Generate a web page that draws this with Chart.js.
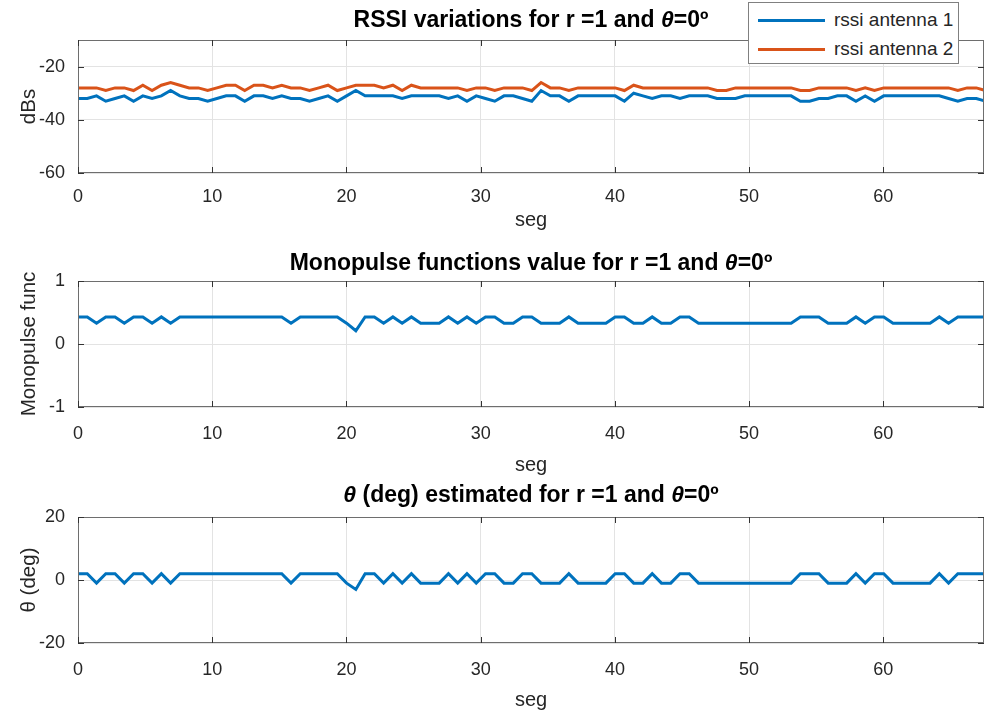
<!DOCTYPE html>
<html>
<head>
<meta charset="utf-8">
<script src="https://cdn.jsdelivr.net/npm/chart.js@4.4.1/dist/chart.umd.min.js"></script>
<style>
  body { margin: 0; background: #fff; width: 985px; height: 720px; overflow: hidden; position: relative;
         font-family: "Liberation Sans", Arial, sans-serif; }
  canvas { position: absolute; left: 0; top: 0; }
  .ttl { position: absolute; left: 78px; width: 906px; text-align: center; font-weight: bold;
         font-size: 23px; color: #000; line-height: 26px; white-space: nowrap; z-index: 5; }
  .legend { position: absolute; left: 748px; top: 2px; width: 209px; height: 60px; background: #fff;
            border: 1px solid #808080; z-index: 6; font-size: 19px; color: #262626; }
  .legend div { position: absolute; left: 9px; height: 22px; line-height: 22px; white-space: nowrap; }
  .legend span { display: inline-block; width: 67px; height: 3px; vertical-align: middle; margin-right: 9px; }
</style>
</head>
<body>
<div class="ttl" style="top:6px">RSSI variations for r =1 and <i>θ</i>=0º</div>
<div class="ttl" style="top:249px">Monopulse functions value for r =1 and <i>θ</i>=0º</div>
<div class="ttl" style="top:481px"><i>θ</i> (deg) estimated for r =1 and <i>θ</i>=0º</div>
<div class="legend">
  <div style="top:6px"><span style="background:#0072BD"></span>rssi antenna 1</div>
  <div style="top:35px"><span style="background:#D95319"></span>rssi antenna 2</div>
</div>
<canvas id="c1" width="985" height="720"></canvas>
<canvas id="c2" width="985" height="720"></canvas>
<canvas id="c3" width="985" height="720"></canvas>
<script>
// sample spacing on the "seg" axis
const SEG_STEP = 0.69;

// rssi antenna 1 (dBs)
const rssi1 = [
  -32, -32, -31, -33, -32, -31, -33, -31, -32, -31,
  -29, -31, -32, -32, -33, -32, -31, -31, -33, -31,
  -31, -32, -31, -32, -32, -33, -32, -31, -33, -31,
  -29, -31, -31, -31, -31, -32, -31, -31, -31, -31,
  -32, -31, -33, -31, -32, -33, -31, -31, -32, -33,
  -29, -31, -31, -33, -31, -31, -31, -31, -31, -33,
  -30, -31, -32, -31, -31, -32, -31, -31, -31, -32,
  -32, -32, -31, -31, -31, -31, -31, -31, -33, -33,
  -32, -32, -31, -31, -33, -31, -33, -31, -31, -31,
  -31, -31, -31, -31, -32, -33, -32, -32, -33
];

// rssi antenna 2 (dBs)
const rssi2 = [
  -28, -28, -28, -29, -28, -28, -29, -27, -29, -27,
  -26, -27, -28, -28, -29, -28, -27, -27, -29, -27,
  -27, -28, -27, -28, -28, -29, -28, -27, -29, -28,
  -27, -27, -27, -28, -27, -29, -27, -28, -28, -28,
  -28, -28, -29, -28, -28, -29, -28, -28, -28, -29,
  -26, -28, -28, -29, -28, -28, -28, -28, -28, -29,
  -27, -28, -28, -28, -28, -28, -28, -28, -28, -29,
  -29, -28, -28, -28, -28, -28, -28, -28, -29, -29,
  -28, -28, -28, -28, -29, -28, -29, -28, -28, -28,
  -28, -28, -28, -28, -28, -29, -28, -28, -29
];

// monopulse function value
const mono = [
  0.43, 0.43, 0.33, 0.43, 0.43, 0.33, 0.43, 0.43, 0.33, 0.43,
  0.33, 0.43, 0.43, 0.43, 0.43, 0.43, 0.43, 0.43, 0.43, 0.43,
  0.43, 0.43, 0.43, 0.33, 0.43, 0.43, 0.43, 0.43, 0.43, 0.33,
  0.21, 0.43, 0.43, 0.33, 0.43, 0.33, 0.43, 0.33, 0.33, 0.33,
  0.43, 0.33, 0.43, 0.33, 0.43, 0.43, 0.33, 0.33, 0.43, 0.43,
  0.33, 0.33, 0.33, 0.43, 0.33, 0.33, 0.33, 0.33, 0.43, 0.43,
  0.33, 0.33, 0.43, 0.33, 0.33, 0.43, 0.43, 0.33, 0.33, 0.33,
  0.33, 0.33, 0.33, 0.33, 0.33, 0.33, 0.33, 0.33, 0.43, 0.43,
  0.43, 0.33, 0.33, 0.33, 0.43, 0.33, 0.43, 0.43, 0.33, 0.33,
  0.33, 0.33, 0.33, 0.43, 0.33, 0.43, 0.43, 0.43, 0.43
];

// estimated theta (deg)
const theta = [
  2, 2, -1, 2, 2, -1, 2, 2, -1, 2,
  -1, 2, 2, 2, 2, 2, 2, 2, 2, 2,
  2, 2, 2, -1, 2, 2, 2, 2, 2, -1,
  -3, 2, 2, -1, 2, -1, 2, -1, -1, -1,
  2, -1, 2, -1, 2, 2, -1, -1, 2, 2,
  -1, -1, -1, 2, -1, -1, -1, -1, 2, 2,
  -1, -1, 2, -1, -1, 2, 2, -1, -1, -1,
  -1, -1, -1, -1, -1, -1, -1, -1, 2, 2,
  2, -1, -1, -1, 2, -1, 2, 2, -1, -1,
  -1, -1, -1, 2, -1, 2, 2, 2, 2
];

const seg = mono.map((_, i) => i * SEG_STEP);
const xTicks = { min: 0, max: 67.5, step: 10 };

const BLUE = '#0072BD';
const ORANGE = '#D95319';
const TXT = '#262626';

Chart.defaults.font.family = '"Liberation Sans", Arial, sans-serif';
Chart.defaults.color = TXT;

// MATLAB-like box with inward tick marks
const boxPlugin = {
  id: 'box',
  afterDraw(chart) {
    const { ctx, chartArea: a, scales: { x, y } } = chart;
    ctx.save();
    ctx.strokeStyle = '#6e6e6e';
    ctx.lineWidth = 1;
    ctx.strokeRect(a.left + 0.5, a.top + 0.5, a.right - a.left - 1, a.bottom - a.top - 1);
    ctx.strokeStyle = '#333';
    ctx.beginPath();
    x.ticks.forEach(t => {
      const p = Math.round(x.getPixelForValue(t.value)) + 0.5;
      ctx.moveTo(p, a.bottom); ctx.lineTo(p, a.bottom - 6);
      ctx.moveTo(p, a.top); ctx.lineTo(p, a.top + 6);
    });
    y.ticks.forEach(t => {
      const p = Math.round(y.getPixelForValue(t.value)) + 0.5;
      ctx.moveTo(a.left, p); ctx.lineTo(a.left + 6, p);
      ctx.moveTo(a.right, p); ctx.lineTo(a.right - 6, p);
    });
    ctx.stroke();
    ctx.restore();
  }
};

function makePlot(id, datasets, y, yTitle, top, bottom, xTitleBottom, tickPad) {
  return new Chart(document.getElementById(id), {
    type: 'line',
    data: { datasets },
    options: {
      responsive: false,
      animation: false,
      events: [],
      layout: { padding: { top: top, bottom: 720 - xTitleBottom, left: 0, right: 1 } },
      plugins: { legend: { display: false }, tooltip: { enabled: false } },
      elements: { point: { radius: 0 }, line: { borderWidth: 3, tension: 0 } },
      scales: {
        x: {
          type: 'linear', min: xTicks.min, max: xTicks.max,
          ticks: { stepSize: xTicks.step, includeBounds: false, padding: tickPad, font: { size: 18 }, maxRotation: 0 },
          grid: { color: '#e3e3e3', drawTicks: false },
          border: { display: false },
          title: { display: true, text: 'seg', font: { size: 20 }, padding: 0 },
          afterFit: s => { s.height = xTitleBottom - bottom; }
        },
        y: {
          min: y.min, max: y.max,
          ticks: { stepSize: y.step, includeBounds: false, padding: 13, font: { size: 18 } },
          grid: { color: '#e3e3e3', drawTicks: false },
          border: { display: false },
          title: { display: true, text: yTitle, font: { size: 20.5 }, padding: { top: 17, bottom: 0 } },
          afterFit: s => { s.width = 78; }
        }
      }
    },
    plugins: [boxPlugin]
  });
}

const pts = arr => arr.map((v, i) => ({ x: seg[i], y: v }));

makePlot('c1', [
  { label: 'rssi antenna 1', data: pts(rssi1), borderColor: BLUE },
  { label: 'rssi antenna 2', data: pts(rssi2), borderColor: ORANGE }
], { min: -60, max: -10, step: 20 }, 'dBs', 40, 173, 232, 13);

makePlot('c2', [
  { label: 'Monopulse', data: pts(mono), borderColor: BLUE }
], { min: -1, max: 1, step: 1 }, 'Monopulse func', 281, 407, 477, 16);

makePlot('c3', [
  { label: 'theta', data: pts(theta), borderColor: BLUE }
], { min: -20, max: 20, step: 20 }, 'θ (deg)', 517, 643, 712, 16);
</script>
</body>
</html>
